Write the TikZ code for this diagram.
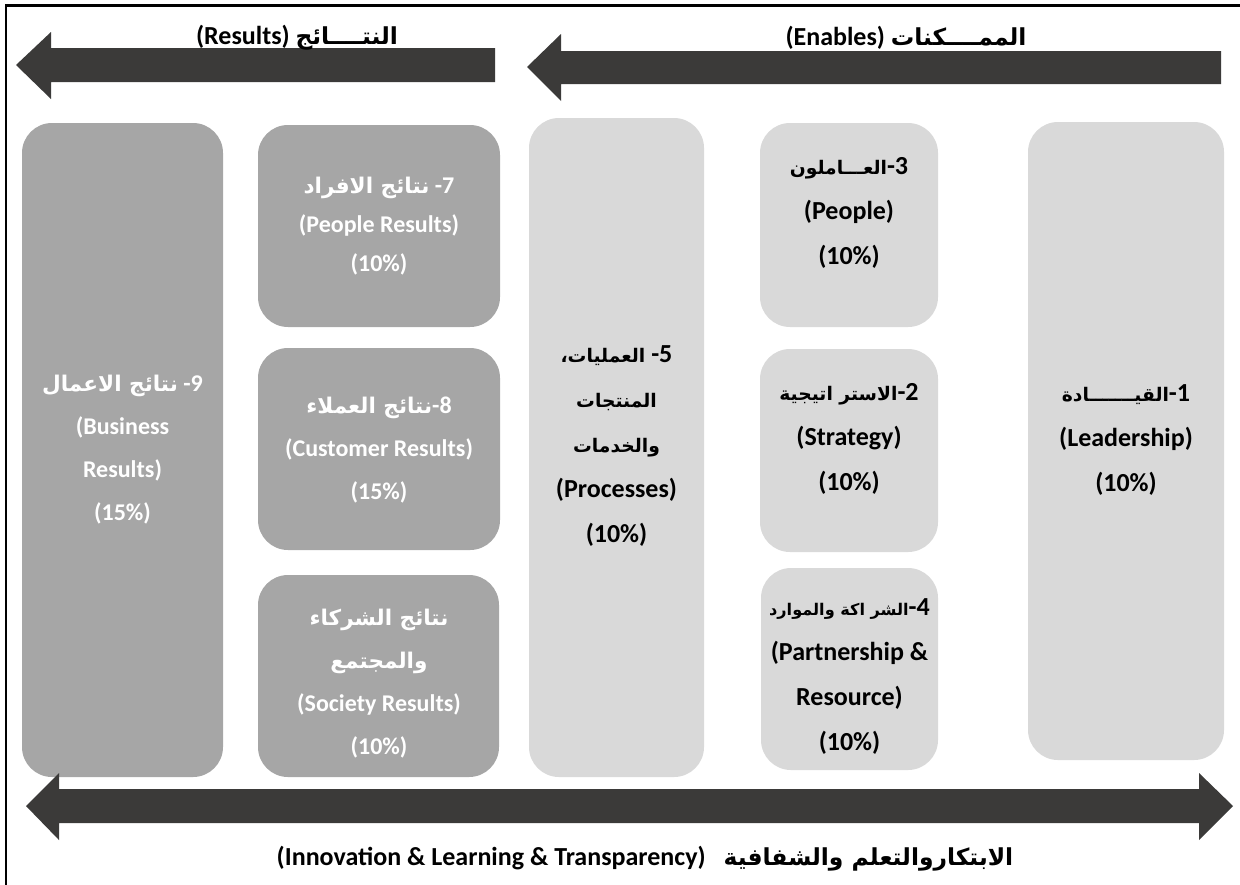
\documentclass[tikz,border=0pt]{standalone}
\usepackage{fontspec}
\setmainfont{Carlito}
\newfontfamily\arabicfont[Script=Arabic,Scale=0.9,BoldFont={DejaVu Sans Bold}]{DejaVu Sans}
\newfontfamily\arabiclight[Script=Arabic,Scale=0.72,BoldFont={DejaVu Sans Bold}]{DejaVu Sans}
\TeXXeTstate=1
\newcommand{\artext}[1]{{\arabicfont\beginR #1\endR}}
\newcommand{\arlight}[1]{{\arabiclight\beginR #1\endR}}
\definecolor{arrowgray}{HTML}{3B3A39}
\definecolor{darkbox}{HTML}{A6A6A6}
\definecolor{lightbox}{HTML}{D9D9D9}
\begin{document}
\begin{tikzpicture}[x=0.5pt,y=-0.5pt,
  boxsize/.style 2 args={minimum width=#1*0.5pt, minimum height=#2*0.5pt},
  card/.style={rounded corners=15pt, inner sep=0pt},
  darkcard/.style={card, fill=darkbox},
  lightcard/.style={card, fill=lightbox},
  darktext/.style={inner sep=0pt, align=center, text=white,
    font=\bfseries\fontsize{12}{21.5}\selectfont},
  lighttext/.style={inner sep=0pt, align=center, text=black,
    font=\bfseries\fontsize{13}{22.5}\selectfont},
  blockarrow/.style={fill=arrowgray},
  caption/.style={inner sep=0pt, anchor=base, font=\bfseries\fontsize{13}{15}\selectfont}]
\useasboundingbox (0,0) rectangle (1240,884);

% outer frame
\draw[line width=1.25pt] (6,890) -- (6,5.5) -- (1245,5.5);

% results column
\node[darkcard, boxsize={201}{654}] (b9) at (122.5,450) {};
\node[darkcard, boxsize={242}{202}] (b7) at (379,226) {};
\node[darkcard, boxsize={242}{202}] (b8) at (379,449) {};
\node[darkcard, boxsize={241}{202}] (b6) at (378.5,676) {};
\node[darktext] (t9) at (122.5,450)
  {\artext{نتائج الاعمال}\ -9\\(Business\\Results)\\(15\%)};
\node[darktext, font=\bfseries\fontsize{12}{19.5}\selectfont] (t7) at (379,226)
  {\artext{نتائج الافراد}\ -7\\(People Results)\\(10\%)};
\node[darktext] (t8) at (379,450)
  {\artext{نتائج العملاء}-8\\(Customer Results)\\(15\%)};
\node[darktext] (t6) at (379,684)
  {\artext{نتائج الشركاء}\\\artext{والمجتمع}\\(Society Results)\\(10\%)};

% enablers column
\node[lightcard, boxsize={175}{659}] (b5) at (616.5,447.5) {};
\node[lightcard, boxsize={178}{204}] (b3) at (849,225) {};
\node[lightcard, boxsize={178}{203}] (b2) at (849,450.5) {};
\node[lightcard, boxsize={177}{202}] (b4) at (849.5,669) {};
\node[lightcard, boxsize={196}{638}] (b1) at (1126,441) {};
\node[lighttext] (t5) at (616.5,446)
  {\arlight{العمليات،}\ -5\\\arlight{المنتجات}\\\arlight{والخدمات}\\(Processes)\\(10\%)};
\node[lighttext] (t3) at (849,213)
  {\arlight{العـــاملون}-3\\(People)\\(10\%)};
\node[lighttext] (t2) at (849,439)
  {\arlight{الاستر اتيجية}-2\\(Strategy)\\(10\%)};
\node[lighttext] (t4) at (849.5,677)
  {{\fontsize{11.2}{22.5}\selectfont\arlight{الشر اكة والموارد}}-4\\(Partnership \&\\Resource)\\(10\%)};
\node[lighttext] (t1) at (1126,440)
  {\arlight{القيـــــــادة}-1\\(Leadership)\\(10\%)};

% block arrows
\fill[blockarrow] (16,65) -- (51,32) -- (51,48) -- (495,48) -- (495,82)
  -- (51,82) -- (51,99) -- cycle;
\fill[blockarrow] (527,67) -- (561,34) -- (561,51) -- (1221,51) -- (1221,84)
  -- (561,84) -- (561,101) -- cycle;
\fill[blockarrow] (26,806) -- (59,773) -- (59,789) -- (1199,789) -- (1199,773)
  -- (1233,806) -- (1199,840) -- (1199,823) -- (59,823) -- (59,840) -- cycle;

% captions
\node[caption] (results) at (297,44) {(Results) \artext{النتــــائج}};
\node[caption] (enables) at (906,45) {(Enables) \artext{الممــــكنات}};
\node[caption] (innov) at (645,865)
  {(Innovation \& Learning \& Transparency)\hspace{9pt}\artext{الابتكاروالتعلم والشفافية}};
\end{tikzpicture}
\end{document}
